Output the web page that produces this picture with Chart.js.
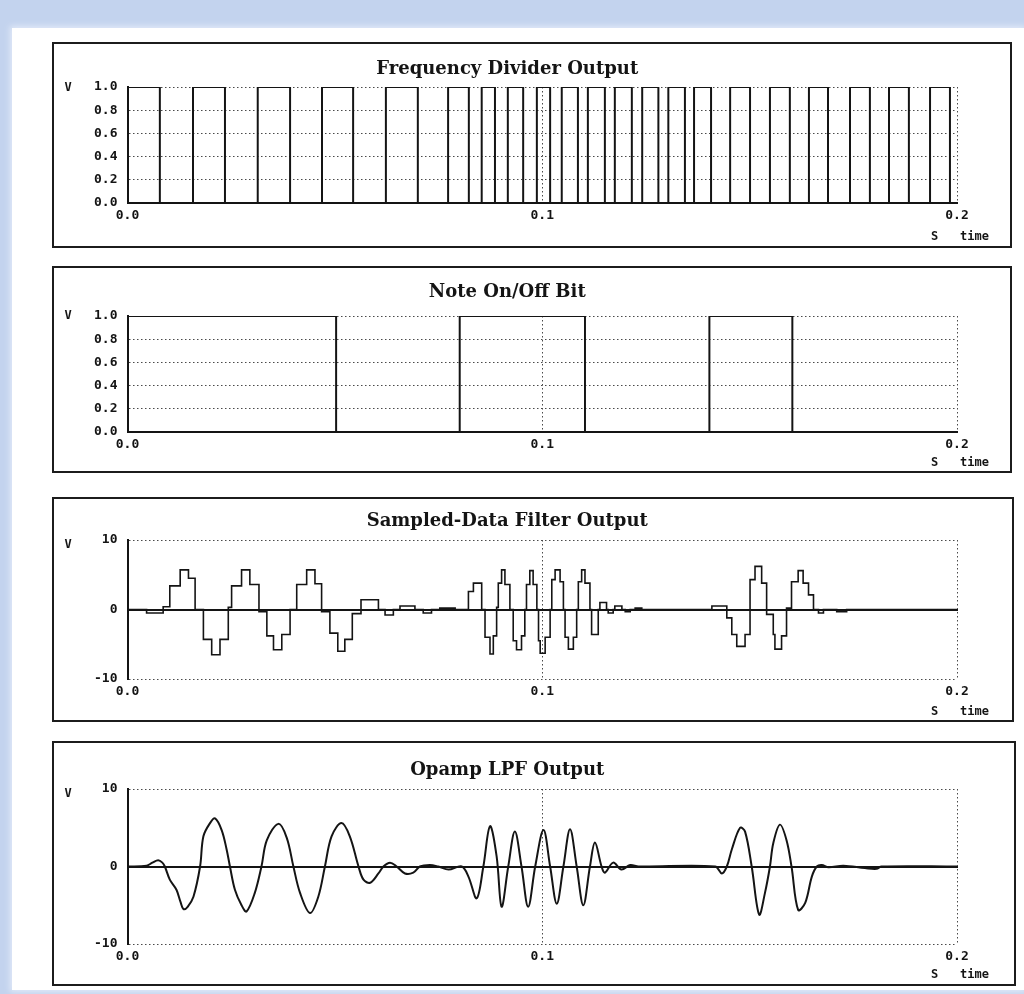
<!DOCTYPE html>
<html>
<head>
<meta charset="utf-8">
<script src="https://cdn.jsdelivr.net/npm/chart.js@4.4.0/dist/chart.umd.min.js"></script>
<style>
  html, body { margin: 0; padding: 0; }
  body { width: 1024px; height: 994px; background: #c3d3ee; position: relative; overflow: hidden; }
  #page { position: absolute; left: 12px; top: 28px; width: 1012px; height: 962px; background: #fff; box-shadow: 0 0 6px 2px #e2eaf8; }
  .box { position: absolute; border: 2px solid #1c1c1c; box-sizing: border-box; background: #fff; }
  .box canvas { position: absolute; left: 0; top: 0; }
</style>
</head>
<body>
<div id="page"></div>
<script>
// ---- data (time in s, value in V) ----
const timeTicks = [0, 0.1, 0.2];
const logicTicks = [0, 0.2, 0.4, 0.6, 0.8, 1.0];
const voltTicks = [-10, 0, 10];

// frequency divider: each entry is the time a level starts
const dividerEdges = [0, 0.0078, 0.0158, 0.0235, 0.0314, 0.0392, 0.0469, 0.0544, 0.0623, 0.0700,
  0.0773, 0.0823, 0.0854, 0.0886, 0.0917, 0.0954, 0.0987, 0.1019, 0.1047, 0.1086,
  0.1110, 0.1151, 0.1175, 0.1216, 0.1241, 0.1280, 0.1304, 0.1344, 0.1366, 0.1407,
  0.1453, 0.1501, 0.1549, 0.1597, 0.1643, 0.1689, 0.1742, 0.1790, 0.1836, 0.1884,
  0.1935, 0.1983, 0.2];
const dividerLevels = [1, 0, 1, 0, 1, 0, 1, 0, 1, 0,
  1, 0, 1, 0, 1, 0, 1, 0, 1, 0,
  1, 0, 1, 0, 1, 0, 1, 0, 1, 0,
  1, 0, 1, 0, 1, 0, 1, 0, 1, 0,
  1, 0, 0];

// note on/off bit
const noteEdges = [0, 0.0503, 0.0801, 0.1103, 0.1403, 0.1603, 0.2];
const noteLevels = [1, 0, 1, 0, 1, 0, 0];

// sampled-data filter (sample & hold steps)
const sampledT = [0, 0.0046, 0.0086, 0.0102, 0.0127, 0.0147, 0.0163, 0.0183, 0.0203, 0.0223,
  0.0243, 0.0251, 0.0275, 0.0295, 0.0317, 0.0336, 0.0352, 0.0372, 0.0392, 0.0408,
  0.0432, 0.0452, 0.0468, 0.0488, 0.0507, 0.0524, 0.0542, 0.0563, 0.0605, 0.0621,
  0.0641, 0.0657, 0.0693, 0.0713, 0.0733, 0.0753, 0.0790, 0.0822, 0.0834, 0.0854,
  0.0862, 0.0874, 0.0882, 0.0890, 0.0894, 0.0902, 0.0910, 0.0922, 0.0930, 0.0938,
  0.0950, 0.0958, 0.0962, 0.0970, 0.0978, 0.0987, 0.0991, 0.0995, 0.1007, 0.1019,
  0.1023, 0.1031, 0.1043, 0.1051, 0.1055, 0.1063, 0.1075, 0.1083, 0.1087, 0.1095,
  0.1103, 0.1115, 0.1119, 0.1135, 0.1139, 0.1155, 0.1159, 0.1171, 0.1175, 0.1192,
  0.1200, 0.1212, 0.1224, 0.1240, 0.1409, 0.1445, 0.1457, 0.1469, 0.1489, 0.1501,
  0.1513, 0.1529, 0.1541, 0.1557, 0.1561, 0.1577, 0.1589, 0.1601, 0.1617, 0.1629,
  0.1642, 0.1654, 0.1666, 0.1678, 0.1710, 0.1734, 0.2];
const sampledV = [0, -0.5, 0.4, 3.4, 5.7, 4.5, 0, -4.3, -6.5, -4.3,
  0.3, 3.4, 5.7, 3.6, -0.3, -3.8, -5.8, -3.6, 0, 3.6,
  5.7, 3.7, -0.3, -3.4, -6, -4.3, -0.6, 1.4, 0, -0.8,
  0, 0.5, 0, -0.5, 0, 0.2, 0, 2.6, 3.8, 0,
  -4, -6.4, -3.8, 0.3, 3.8, 5.7, 3.6, 0, -4.5, -5.8,
  -3.8, 0, 3.6, 5.6, 3.6, 0, -4.5, -6.3, -4, 0,
  4.3, 5.7, 4, 0, -4, -5.7, -4, 0, 4, 5.7,
  3.8, 0, -3.6, 0, 1, 0, -0.5, 0, 0.5, 0,
  -0.3, 0, 0.2, 0, 0.5, -1.2, -3.6, -5.3, -3.6, 4.3,
  6.2, 3.8, -0.7, -3.6, -5.7, -3.8, 0.2, 4, 5.6, 3.8,
  2.1, 0, -0.5, 0, -0.3, 0, 0];

// opamp low-pass filter output
const opampT = [0, 0.0046, 0.0060, 0.0074, 0.0084, 0.0090, 0.0102, 0.0118, 0.0128, 0.0135,
  0.0145, 0.0159, 0.0175, 0.0183, 0.0199, 0.0211, 0.0227, 0.0239, 0.0247, 0.0259,
  0.0275, 0.0287, 0.0307, 0.0323, 0.0336, 0.0364, 0.0384, 0.0400, 0.0416, 0.0440,
  0.0460, 0.0476, 0.0492, 0.0516, 0.0536, 0.0557, 0.0569, 0.0585, 0.0605, 0.0617,
  0.0633, 0.0649, 0.0669, 0.0689, 0.0705, 0.0729, 0.0749, 0.0774, 0.0806, 0.0822,
  0.0842, 0.0858, 0.0874, 0.0890, 0.0902, 0.0918, 0.0934, 0.0950, 0.0966, 0.0983,
  0.1003, 0.1019, 0.1035, 0.1051, 0.1067, 0.1083, 0.1099, 0.1115, 0.1127, 0.1143,
  0.1151, 0.1171, 0.1191, 0.1212, 0.1232, 0.1417, 0.1433, 0.1445, 0.1457, 0.1477,
  0.1489, 0.1505, 0.1523, 0.1537, 0.1549, 0.1557, 0.1573, 0.1589, 0.1601, 0.1617,
  0.1634, 0.1650, 0.1662, 0.1674, 0.1690, 0.1726, 0.1778, 0.1806, 0.1818, 0.2];
const opampV = [0, 0.1, 0.5, 0.8, 0.5, 0, -1.7, -3.0, -4.6, -5.5,
  -5.2, -3.9, 0, 3.9, 5.6, 6.2, 4.7, 2.2, 0, -3.0,
  -5.0, -5.8, -3.4, 0, 3.4, 5.5, 3.7, 0, -3.4, -6.0,
  -3.9, 0, 3.9, 5.6, 3.9, 0, -1.7, -2.1, -0.9, 0,
  0.5, 0, -0.9, -0.8, 0, 0.2, 0, -0.4, 0, -1.3,
  -4.1, 0, 5.2, 1.3, -5.2, 0, 4.5, 0, -5.2, 0,
  4.7, 0, -4.8, 0, 4.8, 0, -5.0, 0, 3.1, 0,
  -0.8, 0.5, -0.4, 0.2, 0, 0, -0.9, 0, 2.2, 5.0,
  4.5, 0, -6.2, -3.4, 0, 3.0, 5.4, 3.4, 0, -5.6,
  -4.7, -1.3, 0, 0.2, -0.1, 0.1, -0.2, -0.3, 0, 0];

const INK = '#141414';
const DOTS = '#4a4a4a';
const tickFont = { family: '"DejaVu Sans Mono", monospace', size: 13, weight: 'bold' };
const titleFont = { family: '"DejaVu Serif", serif', size: 18, weight: 'bold' };

// V / S time labels around the plot
const unitLabels = {
  id: 'unitLabels',
  afterDraw(chart, args, opts) {
    const { ctx, chartArea } = chart;
    ctx.save();
    ctx.font = 'bold 12px "DejaVu Sans Mono"';
    ctx.fillStyle = INK;
    ctx.textBaseline = 'middle';
    ctx.textAlign = 'left';
    ctx.fillText('V', chartArea.left - 63, chartArea.top + opts.vDy);
    ctx.fillText('S', chartArea.right - 26, chartArea.bottom + opts.sDy);
    ctx.fillText('time', chartArea.right + 3, chartArea.bottom + opts.sDy);
    ctx.restore();
  }
};

const panels = [
  { title: 'Frequency Divider Output', box: [52, 42, 1012, 248], plot: [127.5, 87, 957, 203], titleY: 69,
    t: dividerEdges, v: dividerLevels, yTicks: logicTicks, min: 0, max: 1, stepped: true, width: 2, sDy: 34, vDy: 1 },
  { title: 'Note On/Off Bit', box: [52, 266, 1012, 473], plot: [127.5, 316, 957, 432], titleY: 292,
    t: noteEdges, v: noteLevels, yTicks: logicTicks, min: 0, max: 1, stepped: true, width: 2, sDy: 31, vDy: 0 },
  { title: 'Sampled-Data Filter Output', box: [52, 497, 1014, 722], plot: [127.5, 540, 957, 679], titleY: 521,
    t: sampledT, v: sampledV, yTicks: voltTicks, min: -10, max: 10, stepped: true, width: 1.6, sDy: 33, vDy: 5, zero: true },
  { title: 'Opamp LPF Output', box: [52, 741, 1016, 986], plot: [127.5, 789, 957, 944], titleY: 770,
    t: opampT, v: opampV, yTicks: voltTicks, min: -10, max: 10, stepped: false, width: 2, sDy: 31, vDy: 5, zero: true }
];

const Y_AXIS_W = 70, X_AXIS_H = 30, TITLE_H = titleFont.size * 1.2;

panels.forEach((p, i) => {
  const [bl, bt, br, bb] = p.box;
  const [pl, pt, pr, pb] = p.plot;
  const div = document.createElement('div');
  div.className = 'box';
  div.style.left = bl + 'px';
  div.style.top = bt + 'px';
  div.style.width = (br - bl) + 'px';
  div.style.height = (bb - bt) + 'px';
  const cw = br - bl - 4, ch = bb - bt - 4;
  const canvas = document.createElement('canvas');
  canvas.width = cw; canvas.height = ch;
  canvas.style.width = cw + 'px'; canvas.style.height = ch + 'px';
  div.appendChild(canvas);
  document.body.appendChild(div);

  const cl = bl + 2, ct = bt + 2;
  const fmt = p.max === 1 ? (v => v.toFixed(1)) : (v => String(v));

  const scales = {
    x: {
      type: 'linear', min: 0, max: 0.2,
      afterBuildTicks: s => { s.ticks = timeTicks.map(v => ({ value: v })); },
      afterFit: s => { s.height = X_AXIS_H; },
      ticks: { callback: v => v.toFixed(1), font: tickFont, color: INK, padding: 5, maxRotation: 0, autoSkip: false },
      grid: { drawTicks: false, color: DOTS, lineWidth: 1 },
      border: { display: !p.zero, color: INK, width: 2, dash: [1.5, 2.5] }
    },
    y: {
      type: 'linear', min: p.min, max: p.max,
      afterBuildTicks: s => { s.ticks = p.yTicks.map(v => ({ value: v })); },
      afterFit: s => { s.width = Y_AXIS_W; },
      ticks: { callback: fmt, font: tickFont, color: INK, padding: 10, autoSkip: false },
      grid: { drawTicks: false, color: DOTS, lineWidth: 1 },
      border: { display: true, color: INK, width: 2, dash: [1.5, 2.5] }
    }
  };
  if (p.zero) {
    // solid 0 V line across the plot
    scales.xz = {
      type: 'linear', axis: 'x', min: 0, max: 0.2, position: { y: 0 },
      ticks: { display: false }, grid: { display: false },
      border: { display: true, color: INK, width: 2 }
    };
  }

  new Chart(canvas.getContext('2d'), {
    type: 'line',
    data: {
      datasets: [{
        data: p.t.map((x, k) => ({ x: x, y: p.v[k] })),
        borderColor: INK,
        borderWidth: p.width,
        pointRadius: 0,
        fill: false,
        stepped: p.stepped ? 'before' : false,
        tension: p.stepped ? 0 : 0.35
      }]
    },
    options: {
      responsive: false,
      animation: false,
      events: [],
      layout: {
        padding: {
          left: pl - cl - Y_AXIS_W,
          right: (cl + cw) - pr,
          top: p.titleY - ct - TITLE_H / 2,
          bottom: (ct + ch) - pb - X_AXIS_H
        }
      },
      plugins: {
        legend: { display: false },
        tooltip: { enabled: false },
        title: {
          display: true, text: p.title, color: INK, font: titleFont,
          padding: { top: 0, bottom: pt - p.titleY - TITLE_H / 2 }
        },
        unitLabels: { sDy: p.sDy, vDy: p.vDy }
      },
      scales: scales
    },
    plugins: [unitLabels]
  });
});
</script>
</body>
</html>
